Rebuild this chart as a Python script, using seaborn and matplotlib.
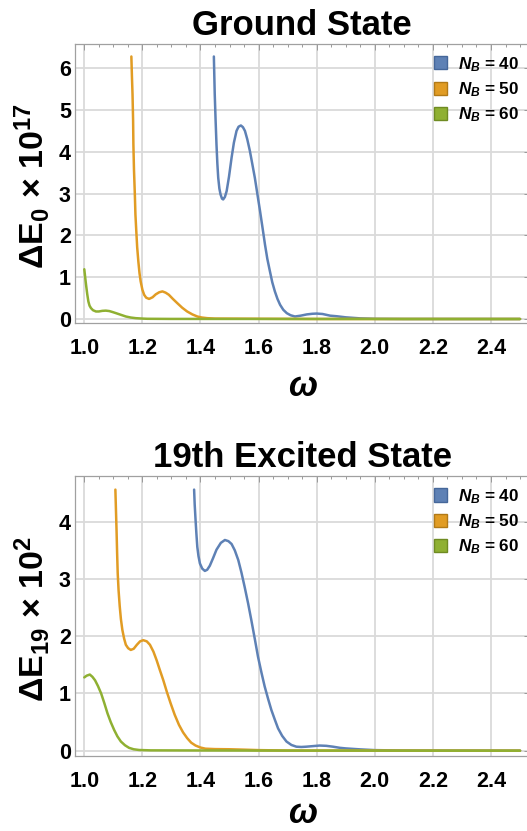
import numpy as np
import pandas as pd
import matplotlib
matplotlib.use("Agg")
import matplotlib.pyplot as plt
from matplotlib.patches import Patch
from matplotlib.ticker import MultipleLocator
import seaborn as sns

# ---------------- data ----------------
basis_sizes = [40, 50, 60]
legend_labels = ["$N_B$ = 40", "$N_B$ = 50", "$N_B$ = 60"]
colors = ["#5E81B5", "#E19C24", "#8FB032"]
edge_colors = ["#45679A", "#B27A17", "#6F8B22"]

x_ticks = [1.0, 1.2, 1.4, 1.6, 1.8, 2.0, 2.2, 2.4]
x_tick_labels = ["1.0", "1.2", "1.4", "1.6", "1.8", "2.0", "2.2", "2.4"]

# Ground state, Delta E_0 x 10^17
gs_w40 = [1.446, 1.449, 1.452, 1.455, 1.458, 1.461, 1.465, 1.469, 1.474, 1.478,
          1.484, 1.490, 1.498, 1.507, 1.515, 1.524, 1.531, 1.539, 1.546, 1.553,
          1.561, 1.570, 1.578, 1.587, 1.596, 1.605, 1.614, 1.622, 1.630, 1.639,
          1.647, 1.656, 1.665, 1.674, 1.685, 1.697, 1.710, 1.725, 1.745, 1.766,
          1.785, 1.800, 1.820, 1.846, 1.870, 1.900, 1.950, 2.000, 2.100, 2.500]
gs_e40 = [6.28, 5.38, 4.75, 4.18, 3.72, 3.38, 3.12, 2.98, 2.88, 2.86,
          2.92, 3.06, 3.40, 3.86, 4.22, 4.50, 4.60, 4.63, 4.59, 4.50,
          4.30, 4.02, 3.72, 3.38, 2.98, 2.58, 2.16, 1.78, 1.44, 1.14,
          0.88, 0.66, 0.48, 0.34, 0.22, 0.14, 0.09, 0.06, 0.08, 0.11,
          0.125, 0.13, 0.12, 0.08, 0.065, 0.04, 0.015, 0.004, 0.0, 0.0]

gs_w50 = [1.162, 1.164, 1.166, 1.168, 1.169, 1.171, 1.174, 1.176, 1.179, 1.182,
          1.186, 1.190, 1.194, 1.200, 1.206, 1.213, 1.223, 1.235, 1.246, 1.258,
          1.269, 1.280, 1.291, 1.305, 1.320, 1.337, 1.354, 1.372, 1.389, 1.405,
          1.423, 1.450, 1.600, 1.800, 2.500]
gs_e50 = [6.28, 5.80, 5.38, 4.75, 4.18, 3.58, 2.98, 2.50, 2.10, 1.72,
          1.38, 1.10, 0.90, 0.70, 0.58, 0.51, 0.48, 0.52, 0.59, 0.64,
          0.66, 0.63, 0.58, 0.48, 0.38, 0.27, 0.18, 0.11, 0.06, 0.035,
          0.02, 0.01, 0.005, 0.0, 0.0]

gs_w60 = [1.000, 1.003, 1.006, 1.010, 1.014, 1.018, 1.023, 1.030, 1.040, 1.050,
          1.062, 1.074, 1.086, 1.098, 1.109, 1.126, 1.143, 1.160, 1.177, 1.200,
          1.217, 1.300, 2.500]
gs_e60 = [1.19, 1.00, 0.82, 0.60, 0.42, 0.32, 0.26, 0.21, 0.18, 0.18,
          0.195, 0.20, 0.19, 0.165, 0.14, 0.10, 0.06, 0.035, 0.02, 0.01,
          0.005, 0.002, 0.0]

# 19th excited state, Delta E_19 x 10^2
ex_w40 = [1.378, 1.380, 1.383, 1.386, 1.389, 1.393, 1.398, 1.406, 1.415, 1.423,
          1.432, 1.443, 1.455, 1.470, 1.484, 1.496, 1.507, 1.518, 1.530, 1.541,
          1.552, 1.564, 1.575, 1.587, 1.598, 1.610, 1.621, 1.633, 1.644, 1.656,
          1.667, 1.681, 1.696, 1.713, 1.730, 1.747, 1.764, 1.787, 1.810, 1.833,
          1.856, 1.880, 1.900, 1.950, 2.000, 2.100, 2.500]
ex_e40 = [4.56, 4.30, 4.03, 3.78, 3.56, 3.40, 3.27, 3.18, 3.14, 3.16,
          3.23, 3.36, 3.51, 3.63, 3.68, 3.66, 3.61, 3.50, 3.33, 3.11,
          2.86, 2.57, 2.28, 1.95, 1.64, 1.36, 1.12, 0.90, 0.71, 0.54,
          0.39, 0.26, 0.16, 0.10, 0.07, 0.065, 0.07, 0.08, 0.09, 0.085,
          0.07, 0.05, 0.04, 0.023, 0.01, 0.003, 0.0]

ex_w50 = [1.107, 1.109, 1.111, 1.113, 1.115, 1.118, 1.122, 1.126, 1.131, 1.137,
          1.143, 1.151, 1.160, 1.170, 1.181, 1.192, 1.203, 1.215, 1.226, 1.238,
          1.249, 1.260, 1.272, 1.284, 1.297, 1.311, 1.326, 1.340, 1.354, 1.368,
          1.383, 1.400, 1.417, 1.450, 1.500, 1.550, 1.600, 1.700, 2.500]
ex_e50 = [4.56, 4.20, 3.85, 3.45, 3.10, 2.80, 2.52, 2.30, 2.11, 1.96,
          1.85, 1.79, 1.76, 1.78, 1.85, 1.91, 1.93, 1.91, 1.85, 1.73,
          1.58, 1.41, 1.23, 1.03, 0.83, 0.63, 0.45, 0.32, 0.22, 0.14,
          0.09, 0.055, 0.035, 0.028, 0.025, 0.018, 0.01, 0.003, 0.0]

ex_w60 = [1.000, 1.008, 1.019, 1.028, 1.037, 1.047, 1.058, 1.069, 1.080, 1.091,
          1.103, 1.114, 1.126, 1.140, 1.154, 1.170, 1.189, 1.229, 1.400, 1.600,
          2.500]
ex_e60 = [1.28, 1.31, 1.33, 1.29, 1.23, 1.13, 1.00, 0.83, 0.65, 0.50,
          0.36, 0.25, 0.16, 0.095, 0.05, 0.025, 0.012, 0.006, 0.004, 0.002,
          0.0]


def long_frame(ws, es):
    parts = []
    for nb, w, e in zip(basis_sizes, ws, es):
        parts.append(pd.DataFrame({"omega": w, "dE": e, "N_B": nb}))
    return pd.concat(parts, ignore_index=True)


ground = long_frame([gs_w40, gs_w50, gs_w60], [gs_e40, gs_e50, gs_e60])
excited = long_frame([ex_w40, ex_w50, ex_w60], [ex_e40, ex_e50, ex_e60])

# ---------------- style ----------------
sns.set_theme(style="white")
plt.rcParams["font.family"] = ["Liberation Sans", "DejaVu Sans"]
plt.rcParams["font.weight"] = "bold"
plt.rcParams["text.color"] = "black"
plt.rcParams["axes.labelcolor"] = "black"
plt.rcParams["axes.titlecolor"] = "black"
plt.rcParams["xtick.labelcolor"] = "black"
plt.rcParams["ytick.labelcolor"] = "black"
plt.rcParams["mathtext.fontset"] = "custom"
plt.rcParams["mathtext.rm"] = "Liberation Sans:bold"
plt.rcParams["mathtext.bf"] = "Liberation Sans:bold"
plt.rcParams["mathtext.it"] = "Liberation Sans:bold:italic"

W, H = 527, 831
fig = plt.figure(figsize=(W / 100, H / 100), dpi=100)
palette = dict(zip(basis_sizes, colors))


def px_axes(left, top, right, bottom):
    return fig.add_axes([left / W, 1 - bottom / H, (right - left) / W, (bottom - top) / H])


panels = [
    dict(df=ground, box=(75, 44, 529.5, 323), ylim=(-0.0957, 6.579),
         title="Ground State", ylabel="ΔE$_0$ × 10$^{17}$",
         yticks=[0, 1, 2, 3, 4, 5, 6], leg_y=0.961, xlab_y=-0.262),
    dict(df=excited, box=(75, 475.7, 529.5, 756), ylim=(-0.0926, 4.803),
         title="19th Excited State", ylabel="ΔE$_{19}$ × 10$^2$",
         yticks=[0, 1, 2, 3, 4], leg_y=0.960, xlab_y=-0.238),
]

for p in panels:
    ax = px_axes(*p["box"])
    sns.lineplot(data=p["df"], x="omega", y="dE", hue="N_B", palette=palette,
                 estimator=None, sort=False, linewidth=1.8, legend=False, ax=ax)
    ax.set_xlim(0.968, 2.5325)
    ax.set_ylim(*p["ylim"])

    ax.set_xticks(x_ticks)
    ax.set_xticklabels(x_tick_labels)
    ax.set_yticks(p["yticks"])
    ax.set_yticklabels([str(t) for t in p["yticks"]])
    ax.xaxis.set_minor_locator(MultipleLocator(0.05))
    ax.yaxis.set_minor_locator(MultipleLocator(0.2))

    ax.grid(True, which="major", color="#dadada", linewidth=1.3)
    ax.set_axisbelow(True)
    for s in ax.spines.values():
        s.set_color("#a0a0a0")
        s.set_linewidth(0.9)
    ax.tick_params(which="both", direction="in", top=True, right=True,
                   color="#999999", width=0.7)
    ax.tick_params(which="major", length=4)
    ax.tick_params(which="minor", length=2.3)
    ax.tick_params(axis="x", which="major", labelsize=15.5, pad=10.5)
    ax.tick_params(axis="y", which="major", labelsize=15.5, pad=3)
    for lab in ax.get_xticklabels() + ax.get_yticklabels():
        lab.set_fontweight("bold")

    ax.set_title(p["title"], fontsize=25, fontweight="bold", pad=6.5)

    ax.set_xlabel("ω", fontsize=25, fontweight="bold", fontstyle="italic")
    ax.xaxis.label.set_va("baseline")
    ax.xaxis.set_label_coords(0.5, p["xlab_y"])

    ax.set_ylabel(p["ylabel"], fontsize=24.5, fontweight="bold")
    ax.yaxis.label.set_va("center")
    ax.yaxis.label.set_ha("center")
    ax.yaxis.set_label_coords(-0.0955, 0.489)

    handles = [Patch(facecolor=c, edgecolor=ec, linewidth=1.0)
               for c, ec in zip(colors, edge_colors)]
    leg = ax.legend(handles, legend_labels, loc="upper left",
                    bbox_to_anchor=(0.789, p["leg_y"]), frameon=False,
                    fontsize=12.3, handlelength=0.8, handleheight=0.8,
                    handletextpad=0.62, labelspacing=0.38, borderpad=0,
                    borderaxespad=0)
    for t in leg.get_texts():
        t.set_fontweight("bold")
        t.set_color("black")

fig.savefig("out.png", dpi=100)
